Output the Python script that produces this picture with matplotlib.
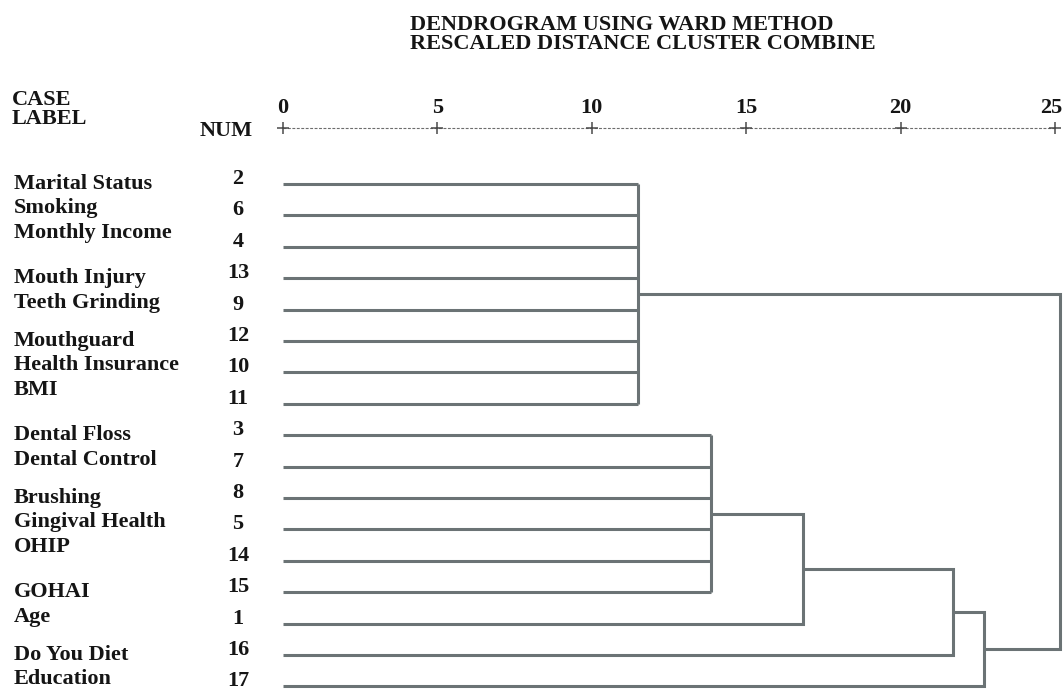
import matplotlib
matplotlib.use("Agg")
import matplotlib.pyplot as plt
from matplotlib.transforms import Affine2D, blended_transform_factory

# ---- data -------------------------------------------------------------
# case numbers in dendrogram order, top to bottom
case_order = [2, 6, 4, 13, 9, 12, 10, 11, 3, 7, 8, 5, 14, 15, 1, 16, 17]

# variable labels, printed in blocks next to the cases
label_groups = [
    ["Marital Status", "Smoking", "Monthly Income"],
    ["Mouth Injury", "Teeth Grinding"],
    ["Mouthguard", "Health Insurance", "BMI"],
    ["Dental Floss", "Dental Control"],
    ["Brushing", "Gingival Health", "OHIP"],
    ["GOHAI", "Age"],
    ["Do You Diet", "Education"],
]

scale_ticks = [0, 5, 10, 15, 20, 25]

# rescaled distances at which clusters combine (0-25)
cluster_a = [2, 6, 4, 13, 9, 12, 10, 11]
cluster_a_height = 11.5
cluster_b = [3, 7, 8, 5, 14, 15]
cluster_b_height = 13.85
chain_cases = [1, 16, 17]
chain_heights = [16.85, 21.7, 22.7]
final_height = 25.15

# ---- layout -----------------------------------------------------------
W, H = 1063, 690
ROW0, ROW_STEP = 184.0, 31.4          # pixel centre of first row, row pitch
X0, X25 = 283.0, 1055.0               # pixel position of scale 0 and 25
AXIS_Y = 128.0

LINE_COLOR = "#6b7375"
TEXT_COLOR = "#151515"
FONT = dict(family="Liberation Serif", weight="bold", size=16, color=TEXT_COLOR)

fig = plt.figure(figsize=(W / 100, H / 100), dpi=100)
fig.patch.set_facecolor("white")

ax = fig.add_axes([X0 / W, 0, (X25 - X0) / W, 1 - AXIS_Y / H])
ax.set_xlim(0, 25)
ax.set_ylim((H - ROW0) / ROW_STEP, (AXIS_Y - ROW0) / ROW_STEP)
ax.axis("off")

# pixel coordinates (origin top-left) for free text
px = Affine2D().scale(1 / W, -1 / H).translate(0, 1) + fig.transFigure
px_x_data_y = blended_transform_factory(px, ax.transData)

row = {c: i for i, c in enumerate(case_order)}
lw = 2.2


def seg(xs, ys):
    ax.plot(xs, ys, color=LINE_COLOR, lw=lw, solid_capstyle="butt",
            solid_joinstyle="miter", clip_on=False)


def comb(cases, h):
    ys = [row[c] for c in cases]
    for y in ys:
        seg([0, h], [y, y])
    seg([h, h], [min(ys), max(ys)])
    return h, (min(ys) + max(ys)) / 2


# lower cluster and its successive joins
nx, ny = comb(cluster_b, cluster_b_height)
for case, h in zip(chain_cases, chain_heights):
    y = row[case]
    seg([nx, h, h, 0], [ny, ny, y, y])
    nx, ny = h, (ny + y) / 2

# upper cluster and final join
ax_, ay_ = comb(cluster_a, cluster_a_height)
seg([ax_, final_height, final_height, nx], [ay_, ay_, ny, ny])

# ---- scale along the top ---------------------------------------------
top = ax.get_ylim()[1]
ax.plot([0, 25], [top, top], color="#6d6d6d", lw=0.8,
        ls=(0, (2.6, 1.4)), clip_on=False)
ax.plot(scale_ticks, [top] * len(scale_ticks), ls="none",
        marker="+", ms=8, mew=1.1, color="#4a4a4a", clip_on=False)
for t in scale_ticks:
    xpx = X0 + t * (X25 - X0) / 25
    if xpx + 12 > W:
        ax.text(W - 1, 108, str(t), transform=px, ha="right", va="center", **FONT)
    else:
        ax.text(xpx, 108, str(t), transform=px, ha="center", va="center", **FONT)

# ---- headings ---------------------------------------------------------
ax.text(410, 25, "DENDROGRAM USING WARD METHOD", transform=px,
        ha="left", va="center", **FONT)
ax.text(410, 44, "RESCALED DISTANCE CLUSTER COMBINE", transform=px,
        ha="left", va="center", **FONT)
ax.text(12, 100, "CASE", transform=px, ha="left", va="center", **FONT)
ax.text(12, 119, "LABEL", transform=px, ha="left", va="center", **FONT)
ax.text(200, 131, "NUM", transform=px, ha="left", va="center", **FONT)

# ---- case numbers and labels -----------------------------------------
for c in case_order:
    ax.text(238, row[c] - 0.16, str(c), transform=px_x_data_y,
            ha="center", va="center", **FONT)

first = 0
label_step = 24.5 / ROW_STEP
for group in label_groups:
    for k, name in enumerate(group):
        ax.text(14, first + k * label_step, name, transform=px_x_data_y,
                ha="left", va="center", **FONT)
    first += len(group)

fig.savefig("out.png", dpi=100, facecolor="white")
